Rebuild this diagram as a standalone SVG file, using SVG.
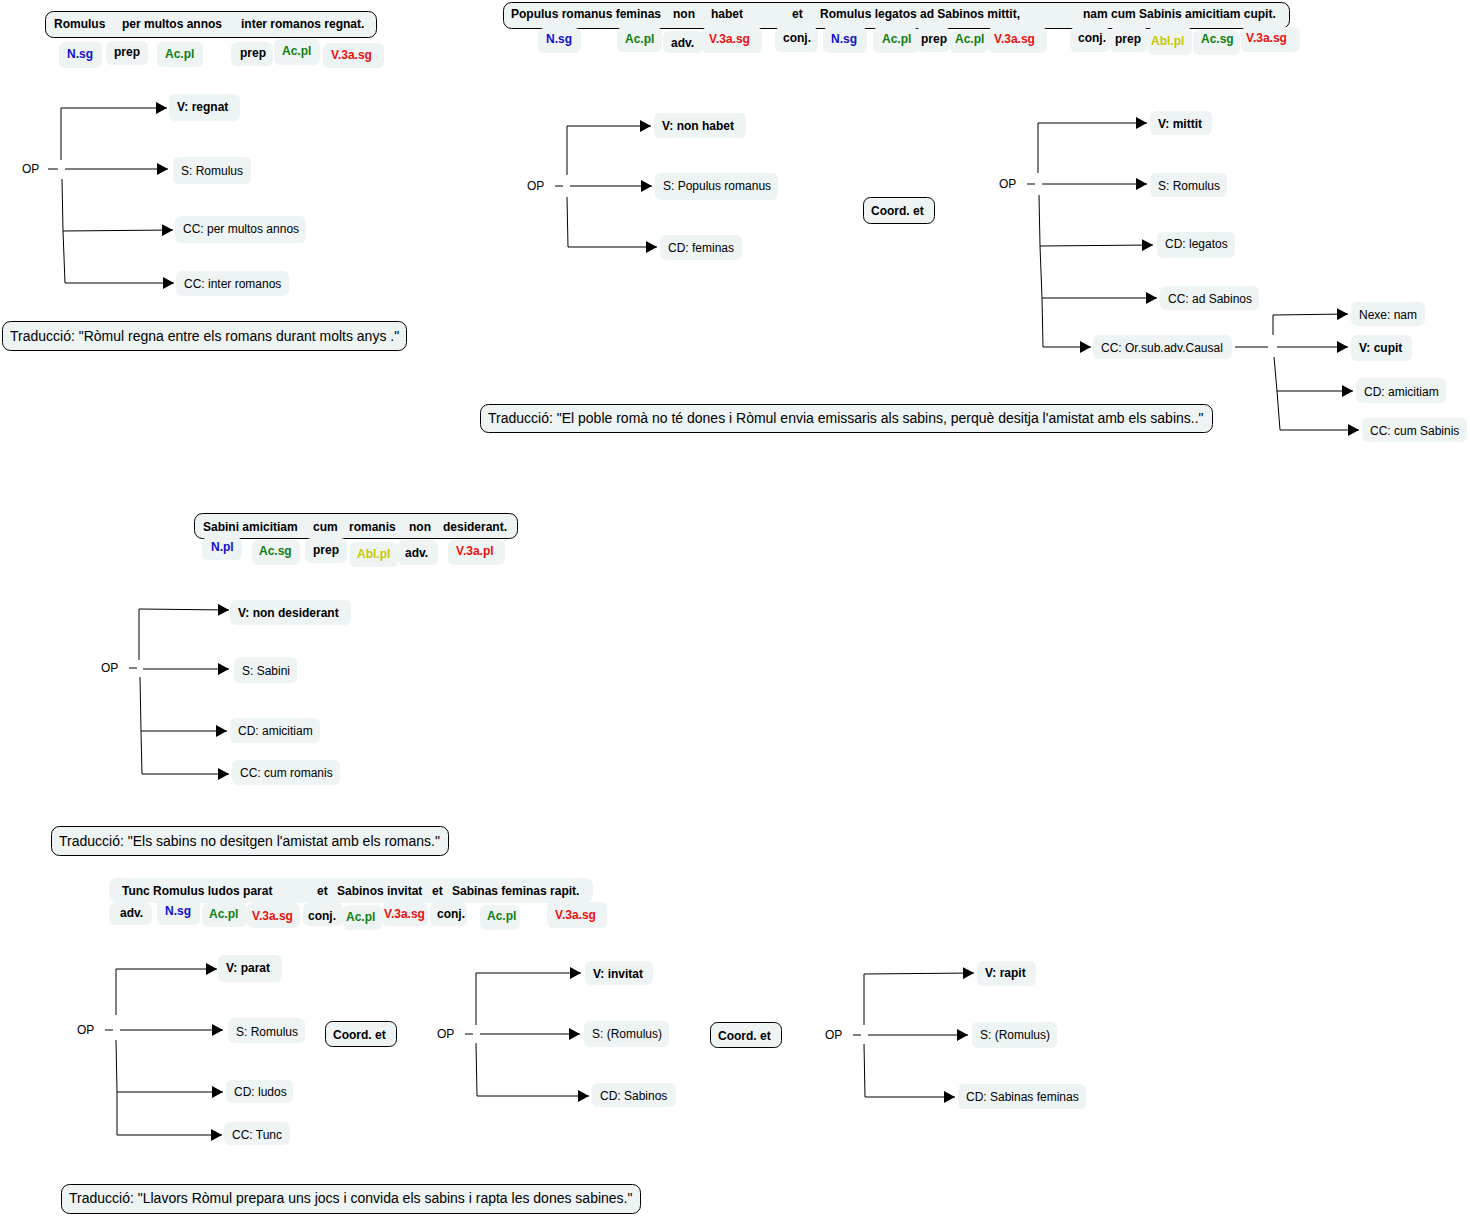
<svg xmlns="http://www.w3.org/2000/svg" width="1470" height="1216" viewBox="0 0 1470 1216">
<style>
text{font-family:"Liberation Sans",Arial,sans-serif;font-size:12px;fill:#000}
.b{font-weight:bold}
.n{fill:#eef3f4}
.s{fill:#eef3f4;stroke:#000;stroke-width:1}
.tr{font-size:14px}
.bl{fill:#1010d0}
.gr{fill:#108010}
.rd{fill:#ee1010}
.ye{fill:#c8c800}
.c{fill:none;stroke:#000;stroke-width:1}
.a{marker-end:url(#ah)}
</style>
<defs>
<marker id="ah" markerUnits="userSpaceOnUse" markerWidth="12" markerHeight="12" refX="11" refY="6" orient="auto">
<path d="M0,0 L11,6 L0,12 z" fill="#000"/>
</marker>
</defs>
<rect width="1470" height="1216" fill="#fff"/>

<!-- ===== Sentence 1 ===== -->
<g id="sent1">
<rect class="s" x="45.5" y="11.5" width="331" height="26" rx="8"/>
<text class="b" x="54" y="28">Romulus</text>
<text class="b" x="122" y="28">per multos annos</text>
<text class="b" x="241" y="28">inter romanos regnat.</text>
</g>
<g id="tags1">
<rect class="n" x="59" y="42" width="43" height="26" rx="6"/><text class="b bl" x="67" y="58">N.sg</text>
<rect class="n" x="106" y="41" width="42" height="24" rx="6"/><text class="b" x="114" y="56">prep</text>
<rect class="n" x="157" y="42" width="46" height="25" rx="6"/><text class="b gr" x="165" y="58">Ac.pl</text>
<rect class="n" x="231" y="42" width="42" height="24" rx="6"/><text class="b" x="240" y="57">prep</text>
<rect class="n" x="274" y="39" width="46" height="26" rx="6"/><text class="b gr" x="282" y="55">Ac.pl</text>
<rect class="n" x="323" y="43" width="61" height="25" rx="6"/><text class="b rd" x="331" y="59">V.3a.sg</text>
</g>

<!-- ===== Sentence 2 ===== -->
<g id="sent2">
<rect class="s" x="503.5" y="2.5" width="786" height="26" rx="8"/>
<text class="b" x="511" y="18">Populus romanus feminas</text>
<text class="b" x="673" y="18">non</text>
<text class="b" x="711" y="18">habet</text>
<text class="b" x="792" y="18">et</text>
<text class="b" x="820" y="18">Romulus legatos ad Sabinos mittit,</text>
<text class="b" x="1083" y="18">nam cum Sabinis amicitiam cupit.</text>
</g>
<g id="tags2">
<rect class="n" x="538" y="28" width="43" height="25" rx="6"/><text class="b bl" x="546" y="43">N.sg</text>
<rect class="n" x="617" y="27" width="45" height="25" rx="6"/><text class="b gr" x="625" y="43">Ac.pl</text>
<rect class="n" x="663" y="31" width="40" height="22" rx="6"/><text class="b" x="671" y="47">adv.</text>
<rect class="n" x="702" y="27" width="60" height="26" rx="6"/><text class="b rd" x="709" y="43">V.3a.sg</text>
<rect class="n" x="775" y="27" width="43" height="25" rx="6"/><text class="b" x="783" y="42">conj.</text>
<rect class="n" x="823" y="27" width="44" height="26" rx="6"/><text class="b bl" x="831" y="43">N.sg</text>
<rect class="n" x="873" y="27" width="45" height="26" rx="6"/><text class="b gr" x="882" y="43">Ac.pl</text>
<rect class="n" x="916" y="27" width="34" height="25" rx="6"/><text class="b" x="921" y="43">prep</text>
<rect class="n" x="950" y="30" width="38" height="23" rx="6"/><text class="b gr" x="955" y="43">Ac.pl</text>
<rect class="n" x="988" y="27" width="59" height="26" rx="6"/><text class="b rd" x="994" y="43">V.3a.sg</text>
<rect class="n" x="1070" y="27" width="40" height="25" rx="6"/><text class="b" x="1078" y="42">conj.</text>
<rect class="n" x="1110" y="27" width="38" height="25" rx="6"/><text class="b" x="1115" y="43">prep</text>
<rect class="n" x="1148" y="27" width="44" height="28" rx="6"/><text class="b ye" x="1151" y="45">Abl.pl</text>
<rect class="n" x="1193" y="30" width="47" height="25" rx="6"/><text class="b gr" x="1201" y="43">Ac.sg</text>
<rect class="n" x="1241" y="27" width="59" height="25" rx="6"/><text class="b rd" x="1246" y="42">V.3a.sg</text>
</g>

<!-- ===== Sentence 3 ===== -->
<g id="sent3">
<rect class="s" x="194.5" y="513.5" width="323" height="25" rx="8"/>
<text class="b" x="203" y="531">Sabini amicitiam</text>
<text class="b" x="313" y="531">cum</text>
<text class="b" x="349" y="531">romanis</text>
<text class="b" x="409" y="531">non</text>
<text class="b" x="443" y="531">desiderant.</text>
</g>
<g id="tags3">
<rect class="n" x="202" y="537" width="40" height="23" rx="6"/><text class="b bl" x="211" y="551">N.pl</text>
<rect class="n" x="252" y="540" width="48" height="25" rx="6"/><text class="b gr" x="259" y="555">Ac.sg</text>
<rect class="n" x="305" y="538" width="42" height="25" rx="6"/><text class="b" x="313" y="554">prep</text>
<rect class="n" x="350" y="542" width="48" height="25" rx="6"/><text class="b ye" x="357" y="558">Abl.pl</text>
<rect class="n" x="398" y="540" width="40" height="25" rx="6"/><text class="b" x="405" y="557">adv.</text>
<rect class="n" x="448" y="540" width="57" height="25" rx="6"/><text class="b rd" x="456" y="555">V.3a.pl</text>
</g>

<!-- ===== Sentence 4 ===== -->
<g id="sent4">
<rect class="n" x="109" y="878" width="484" height="25" rx="8"/>
<text class="b" x="122" y="895">Tunc Romulus ludos parat</text>
<text class="b" x="317" y="895">et</text>
<text class="b" x="337" y="895">Sabinos invitat</text>
<text class="b" x="432" y="895">et</text>
<text class="b" x="452" y="895">Sabinas feminas rapit.</text>
</g>
<g id="tags4">
<rect class="n" x="109" y="903" width="43" height="22" rx="6"/><text class="b" x="120" y="917">adv.</text>
<rect class="n" x="157" y="900" width="43" height="25" rx="6"/><text class="b bl" x="165" y="915">N.sg</text>
<rect class="n" x="202" y="903" width="45" height="24" rx="6"/><text class="b gr" x="209" y="918">Ac.pl</text>
<rect class="n" x="247" y="903" width="53" height="25" rx="6"/><text class="b rd" x="252" y="920">V.3a.sg</text>
<rect class="n" x="303" y="903" width="40" height="23" rx="6"/><text class="b" x="308" y="920">conj.</text>
<rect class="n" x="343" y="905" width="39" height="25" rx="6"/><text class="b gr" x="346" y="921">Ac.pl</text>
<rect class="n" x="382" y="903" width="46" height="23" rx="6"/><text class="b rd" x="384" y="918">V.3a.sg</text>
<rect class="n" x="430" y="903" width="37" height="23" rx="6"/><text class="b" x="437" y="918">conj.</text>
<rect class="n" x="480" y="905" width="40" height="25" rx="6"/><text class="b gr" x="487" y="920">Ac.pl</text>
<rect class="n" x="547" y="902" width="60" height="26" rx="6"/><text class="b rd" x="555" y="919">V.3a.sg</text>
</g>

<!-- ===== Connectors ===== -->
<g id="connectors" class="c">
<!-- tree 1 -->
<path d="M48,169 H58"/>
<path class="a" d="M65,169 H168"/>
<path class="a" d="M61,160 V108 H167"/>
<path class="a" d="M62,179 L63,231 L173,230"/>
<path class="a" d="M63,231 L65,283 H174"/>
<!-- tree 2a -->
<path d="M555,186 H563"/>
<path class="a" d="M570,186 H652"/>
<path class="a" d="M567,175 V126 H651"/>
<path class="a" d="M567,197 L568,247 H657"/>
<!-- tree 2b -->
<path d="M1027,184 H1035"/>
<path class="a" d="M1042,184 H1147"/>
<path class="a" d="M1038,173 V123 H1147"/>
<path class="a" d="M1039,195 L1040,246 L1153,245"/>
<path class="a" d="M1040,246 L1042,298 H1157"/>
<path class="a" d="M1042,298 L1043,347 H1091"/>
<!-- sub tree -->
<path d="M1235,347 H1268"/>
<path class="a" d="M1277,347 H1348"/>
<path class="a" d="M1273,335 V315 L1348,314"/>
<path class="a" d="M1274,357 L1277,391 H1353"/>
<path class="a" d="M1277,391 L1280,430 H1359"/>
<!-- tree 3 -->
<path d="M129,668 H137"/>
<path class="a" d="M143,669 H229"/>
<path class="a" d="M139,660 V609 L229,610"/>
<path class="a" d="M140,677 L141,731 H227"/>
<path class="a" d="M141,731 L142,774 H229"/>
<!-- tree 4a -->
<path d="M105,1030 H113"/>
<path class="a" d="M120,1030 H223"/>
<path class="a" d="M116,1015 V969 H217"/>
<path class="a" d="M116,1040 L117,1092 H223"/>
<path class="a" d="M117,1092 L117,1135 H222"/>
<!-- tree 4b -->
<path d="M465,1034 H473"/>
<path class="a" d="M480,1034 H580"/>
<path class="a" d="M476,1025 V973 H581"/>
<path class="a" d="M476,1043 L477,1096 H589"/>
<!-- tree 4c -->
<path d="M853,1035 H861"/>
<path class="a" d="M868,1035 H968"/>
<path class="a" d="M864,1025 V974 L974,973"/>
<path class="a" d="M864,1044 L865,1097 H955"/>
</g>

<!-- ===== Tree 1 nodes ===== -->
<g id="op1"><text x="22" y="173">OP</text></g>
<g id="v_regnat"><rect class="n" x="169" y="94" width="71" height="27" rx="6"/><text class="b" x="177" y="111">V: regnat</text></g>
<g id="s_romulus1"><rect class="n" x="173" y="157" width="78" height="27" rx="6"/><text x="181" y="175">S: Romulus</text></g>
<g id="cc_multos"><rect class="n" x="175" y="216" width="131" height="27" rx="6"/><text x="183" y="233">CC: per multos annos</text></g>
<g id="cc_inter"><rect class="n" x="176" y="271" width="113" height="25" rx="6"/><text x="184" y="288">CC: inter romanos</text></g>
<g id="trad1"><rect class="s" x="2.5" y="321.5" width="404" height="29" rx="8"/><text class="tr" x="10" y="341">Traducció: "Ròmul regna entre els romans durant molts anys ."</text></g>

<!-- ===== Tree 2 nodes ===== -->
<g id="op2a"><text x="527" y="190">OP</text></g>
<g id="v_nonhabet"><rect class="n" x="654" y="113" width="92" height="25" rx="6"/><text class="b" x="662" y="130">V: non habet</text></g>
<g id="s_populus"><rect class="n" x="655" y="173" width="123" height="27" rx="6"/><text x="663" y="190">S: Populus romanus</text></g>
<g id="cd_feminas"><rect class="n" x="660" y="235" width="82" height="25" rx="6"/><text x="668" y="252">CD: feminas</text></g>
<g id="coord2"><rect class="s" x="863.5" y="197.5" width="71" height="26" rx="7"/><text class="b" x="871" y="215">Coord. et</text></g>
<g id="op2b"><text x="999" y="188">OP</text></g>
<g id="v_mittit"><rect class="n" x="1150" y="111" width="62" height="24" rx="6"/><text class="b" x="1158" y="128">V: mittit</text></g>
<g id="s_romulus2"><rect class="n" x="1150" y="173" width="77" height="24" rx="6"/><text x="1158" y="190">S: Romulus</text></g>
<g id="cd_legatos"><rect class="n" x="1157" y="232" width="78" height="26" rx="6"/><text x="1165" y="248">CD: legatos</text></g>
<g id="cc_adsabinos"><rect class="n" x="1160" y="286" width="99" height="24" rx="6"/><text x="1168" y="303">CC: ad Sabinos</text></g>
<g id="cc_causal"><rect class="n" x="1093" y="335" width="139" height="24" rx="6"/><text x="1101" y="352">CC: Or.sub.adv.Causal</text></g>
<g id="nexe_nam"><rect class="n" x="1351" y="302" width="74" height="24" rx="6"/><text x="1359" y="319">Nexe: nam</text></g>
<g id="v_cupit"><rect class="n" x="1351" y="335" width="61" height="26" rx="6"/><text class="b" x="1359" y="352">V: cupit</text></g>
<g id="cd_amicitiam1"><rect class="n" x="1356" y="378" width="90" height="25" rx="6"/><text x="1364" y="396">CD: amicitiam</text></g>
<g id="cc_cumsabinis"><rect class="n" x="1362" y="418" width="105" height="24" rx="6"/><text x="1370" y="435">CC: cum Sabinis</text></g>
<g id="trad2"><rect class="s" x="480.5" y="404.5" width="732" height="28" rx="8"/><text class="tr" x="488" y="423">Traducció: "El poble romà no té dones i Ròmul envia emissaris als sabins, perquè desitja l'amistat amb els sabins.."</text></g>

<!-- ===== Tree 3 nodes ===== -->
<g id="op3"><text x="101" y="672">OP</text></g>
<g id="v_nondesiderant"><rect class="n" x="230" y="600" width="121" height="25" rx="6"/><text class="b" x="238" y="617">V: non desiderant</text></g>
<g id="s_sabini"><rect class="n" x="234" y="657" width="63" height="26" rx="6"/><text x="242" y="675">S: Sabini</text></g>
<g id="cd_amicitiam2"><rect class="n" x="230" y="718" width="90" height="25" rx="6"/><text x="238" y="735">CD: amicitiam</text></g>
<g id="cc_cumromanis"><rect class="n" x="232" y="760" width="108" height="25" rx="6"/><text x="240" y="777">CC: cum romanis</text></g>
<g id="trad3"><rect class="s" x="51.5" y="826.5" width="397" height="29" rx="8"/><text class="tr" x="59" y="846">Traducció: "Els sabins no desitgen l'amistat amb els romans."</text></g>

<!-- ===== Tree 4 nodes ===== -->
<g id="op4a"><text x="77" y="1034">OP</text></g>
<g id="v_parat"><rect class="n" x="218" y="955" width="64" height="27" rx="6"/><text class="b" x="226" y="972">V: parat</text></g>
<g id="s_romulus4"><rect class="n" x="228" y="1018" width="77" height="25" rx="6"/><text x="236" y="1036">S: Romulus</text></g>
<g id="cd_ludos"><rect class="n" x="226" y="1080" width="67" height="23" rx="6"/><text x="234" y="1096">CD: ludos</text></g>
<g id="cc_tunc"><rect class="n" x="224" y="1122" width="66" height="23" rx="6"/><text x="232" y="1139">CC: Tunc</text></g>
<g id="coord4a"><rect class="s" x="325.5" y="1021.5" width="71" height="25" rx="7"/><text class="b" x="333" y="1039">Coord. et</text></g>
<g id="op4b"><text x="437" y="1038">OP</text></g>
<g id="v_invitat"><rect class="n" x="585" y="961" width="68" height="24" rx="6"/><text class="b" x="593" y="978">V: invitat</text></g>
<g id="s_romulus4b"><rect class="n" x="584" y="1021" width="85" height="26" rx="6"/><text x="592" y="1038">S: (Romulus)</text></g>
<g id="cd_sabinos"><rect class="n" x="592" y="1083" width="84" height="24" rx="6"/><text x="600" y="1100">CD: Sabinos</text></g>
<g id="coord4b"><rect class="s" x="710.5" y="1022.5" width="71" height="25" rx="7"/><text class="b" x="718" y="1040">Coord. et</text></g>
<g id="op4c"><text x="825" y="1039">OP</text></g>
<g id="v_rapit"><rect class="n" x="977" y="961" width="59" height="25" rx="6"/><text class="b" x="985" y="977">V: rapit</text></g>
<g id="s_romulus4c"><rect class="n" x="972" y="1022" width="85" height="26" rx="6"/><text x="980" y="1039">S: (Romulus)</text></g>
<g id="cd_sabinasfeminas"><rect class="n" x="958" y="1084" width="128" height="25" rx="6"/><text x="966" y="1101">CD: Sabinas feminas</text></g>
<g id="trad4"><rect class="s" x="61.5" y="1184.5" width="579" height="29" rx="8"/><text class="tr" x="69" y="1203">Traducció: "Llavors Ròmul prepara uns jocs i convida els sabins i rapta les dones sabines."</text></g>
</svg>
